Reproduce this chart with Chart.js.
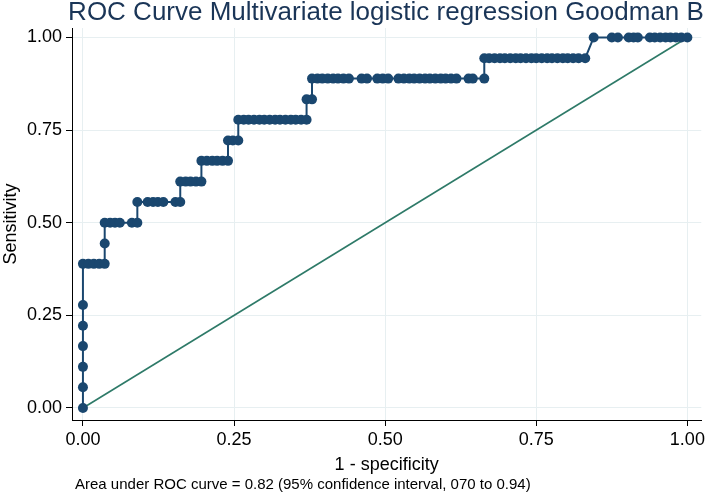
<!DOCTYPE html>
<html>
<head>
<meta charset="utf-8">
<script src="https://cdn.jsdelivr.net/npm/chart.js@4/dist/chart.umd.min.js"></script>
<style>
    html, body { margin: 0; padding: 0; background: #fff; }
    #wrap { width: 708px; height: 494px; }
</style>
</head>
<body>
<div id="wrap"><canvas id="rocChart" width="708" height="494"></canvas></div>
<script>
// Sensitivity steps (18 positives) and the 1 - specificity points on each step
const sensitivityLevels = [0, 0.056, 0.111, 0.167, 0.222, 0.278, 0.389, 0.444, 0.500,
    0.556, 0.611, 0.667, 0.722, 0.778, 0.833, 0.889, 0.944, 1.000];

const fprAtLevel = [
    [0],
    [0],
    [0],
    [0],
    [0],
    [0],
    [0, 0.009, 0.018, 0.027, 0.036],
    [0.036],
    [0.036, 0.045, 0.053, 0.061, 0.081, 0.090],
    [0.090, 0.107, 0.116, 0.124, 0.133, 0.153, 0.161],
    [0.161, 0.170, 0.178, 0.187, 0.196],
    [0.196, 0.205, 0.214, 0.222, 0.231, 0.240],
    [0.240, 0.248, 0.257],
    [0.257, 0.266, 0.274, 0.283, 0.292, 0.300, 0.309, 0.318, 0.326, 0.335, 0.344, 0.352, 0.361, 0.370],
    [0.370, 0.379],
    [0.379, 0.388, 0.396, 0.405, 0.414, 0.422, 0.431, 0.440, 0.461, 0.470, 0.487, 0.496, 0.505,
     0.522, 0.531, 0.540, 0.548, 0.557, 0.566, 0.574, 0.583, 0.592, 0.600, 0.609, 0.618,
     0.638, 0.645, 0.664],
    [0.664, 0.672, 0.681, 0.690, 0.698, 0.707, 0.716, 0.724, 0.733, 0.742, 0.750, 0.759,
     0.768, 0.776, 0.785, 0.794, 0.802, 0.811, 0.820, 0.831],
    [0.845, 0.875, 0.885, 0.903, 0.911, 0.918, 0.938, 0.946, 0.955, 0.964, 0.972, 0.981, 0.990, 1.000]
];

const referenceLine = [[0, 0], [1, 1]];
const xTickValues = [0, 0.25, 0.5, 0.75, 1];
const yTickValues = [0, 0.25, 0.5, 0.75, 1];

const titleText = 'ROC Curve Multivariate logistic regression Goodman B';
const noteText = 'Area under ROC curve = 0.82 (95% confidence interval, 070 to 0.94)';

const FONT = "'Liberation Sans', Arial, Helvetica, sans-serif";
const NAVY = '#1a476f';
const GREEN = '#2e7a68';
const GRID = '#e7eff1';

/**
 * Build the ROC point list in drawing order
 */
function buildCurve() {
    const pts = [];
    fprAtLevel.forEach((xs, i) => {
        xs.forEach(x => pts.push({ x: x, y: sensitivityLevels[i] }));
    });
    return pts;
}

/**
 * Title and footnote drawn straight onto the canvas
 */
const textPlugin = {
    id: 'rocText',
    afterDraw(chart) {
        const ctx = chart.ctx;
        ctx.save();
        ctx.fillStyle = '#1a3557';
        ctx.font = `26px ${FONT}`;
        ctx.textAlign = 'center';
        ctx.textBaseline = 'alphabetic';
        ctx.fillText(titleText, 386, 20);

        ctx.fillStyle = '#000';
        ctx.font = `15px ${FONT}`;
        ctx.textAlign = 'left';
        ctx.fillText(noteText, 75, 489);
        ctx.restore();
    }
};

function axisTicks(values) {
    return scale => { scale.ticks = values.map(v => ({ value: v })); };
}

new Chart(document.getElementById('rocChart'), {
    type: 'line',
    data: {
        datasets: [
            {
                data: buildCurve(),
                borderColor: NAVY,
                backgroundColor: NAVY,
                borderWidth: 2,
                pointRadius: 5,
                pointBorderWidth: 0,
                pointBackgroundColor: NAVY,
                tension: 0,
                order: 1
            },
            {
                data: referenceLine.map(p => ({ x: p[0], y: p[1] })),
                borderColor: GREEN,
                borderWidth: 1.6,
                pointRadius: 0,
                tension: 0,
                order: 2
            }
        ]
    },
    options: {
        responsive: false,
        animation: false,
        layout: { padding: { left: 0, right: 3, top: 28, bottom: 17 } },
        plugins: {
            legend: { display: false },
            tooltip: { enabled: false }
        },
        scales: {
            x: {
                type: 'linear',
                min: -0.0181,
                max: 1.023,
                afterBuildTicks: axisTicks(xTickValues),
                afterFit: s => { s.height = 57; },
                grid: { color: GRID, tickColor: '#000', tickLength: 6, lineWidth: 1 },
                border: { display: true, color: '#000', width: 1 },
                ticks: {
                    color: '#000',
                    font: { family: FONT, size: 18 },
                    padding: 3,
                    maxRotation: 0,
                    callback: v => Number(v).toFixed(2)
                },
                title: {
                    display: true,
                    text: '1 - specificity',
                    color: '#000',
                    font: { family: FONT, size: 18 },
                    padding: { top: 0, bottom: 1 }
                }
            },
            y: {
                type: 'linear',
                min: -0.0324,
                max: 1.0256,
                afterBuildTicks: axisTicks(yTickValues),
                afterFit: s => { s.width = 72; },
                grid: { color: GRID, tickColor: '#000', tickLength: 6, lineWidth: 1 },
                border: { display: true, color: '#000', width: 1 },
                ticks: {
                    color: '#000',
                    font: { family: FONT, size: 18 },
                    padding: 4,
                    callback: v => Number(v).toFixed(2)
                },
                title: {
                    display: true,
                    text: 'Sensitivity',
                    color: '#000',
                    font: { family: FONT, size: 18 },
                    padding: { top: 0, bottom: 0 }
                }
            }
        }
    },
    plugins: [textPlugin]
});
</script>
</body>
</html>
